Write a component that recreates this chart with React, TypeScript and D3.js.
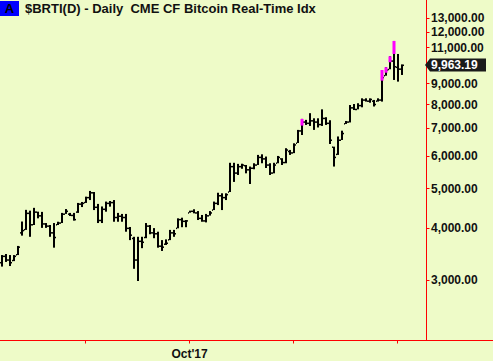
import React, { useEffect, useRef } from "react";
import * as d3 from "d3";

// daily OHLC (101 bars, oldest first)
const opens = [
  3300, 3420, 3350, 3340, 3450, 3900, 3970, 4350, 4080, 4380,
  4290, 4100, 4050, 3900, 4080, 4120, 4330, 4330, 4300, 4380,
  4580, 4620, 4750, 4880, 4500, 4180, 4450, 4600, 4620, 4250,
  4280, 4250, 4000, 3780, 3350, 3720, 3800, 4050, 3900, 3880,
  3620, 3660, 3750, 3900, 4000, 4200, 4160, 4360, 4400, 4360,
  4230, 4170, 4290, 4430, 4600, 4800, 4750, 4900, 5650, 5450,
  5650, 5680, 5550, 5600, 5700, 5950, 5900, 5700, 5450, 5760,
  5900, 5780, 6150, 6100, 6440, 6900, 7250, 7200, 7300, 7250,
  7150, 7400, 7200, 6300, 6050, 6550, 7180, 7250, 7850, 7780,
  7950, 8200, 8150, 8150, 8150, 8200, 9400, 9730, 10200, 9850, 9750,
];
const highs = [
  3440, 3460, 3440, 3440, 3620, 4150, 4430, 4410, 4480, 4385,
  4380, 4115, 4070, 4115, 4145, 4355, 4450, 4355, 4355, 4605,
  4630, 4770, 4925, 4895, 4580, 4515, 4640, 4655, 4680, 4355,
  4330, 4330, 4025, 3810, 3810, 3810, 4115, 4070, 4000, 3920,
  3740, 3755, 3960, 3960, 4225, 4240, 4185, 4410, 4445, 4400,
  4305, 4330, 4400, 4640, 4875, 4860, 4860, 5765, 5765, 5730,
  5735, 5695, 5645, 5750, 6025, 6045, 5970, 5750, 5765, 5990,
  5915, 6255, 6195, 6430, 6930, 7370, 7330, 7610, 7395, 7395,
  7775, 7440, 7315, 6310, 6680, 6900, 7285, 7965, 8010, 8045,
  8270, 8270, 8270, 8195, 8270, 9690, 9840, 10460, 11400, 10600, 10000,
];
const lows = [
  3225, 3310, 3235, 3325, 3440, 3835, 3960, 3810, 4070, 4225,
  4005, 4005, 3810, 3585, 4070, 4115, 4330, 4280, 4170, 4355,
  4500, 4605, 4680, 4425, 4115, 4115, 4385, 4510, 4145, 4145,
  4145, 3920, 3740, 3185, 2975, 3575, 3780, 3865, 3780, 3585,
  3520, 3640, 3740, 3810, 3995, 4020, 4020, 4360, 4345, 4185,
  4145, 4130, 4290, 4425, 4550, 4425, 4680, 4895, 5180, 5385,
  5575, 5435, 5120, 5560, 5695, 5750, 5600, 5385, 5435, 5750,
  5695, 5750, 6025, 6085, 6440, 6735, 7125, 7085, 6930, 7025,
  7085, 7125, 6405, 5645, 6025, 6550, 7165, 7225, 7745, 7775,
  7865, 8120, 8070, 7900, 8120, 8120, 9385, 9730, 9165, 9080, 9425,
];
const closes = [
  3420, 3350, 3300, 3420, 3600, 3950, 4350, 4080, 4380, 4290,
  4100, 4050, 3900, 3800, 4120, 4330, 4400, 4300, 4200, 4580,
  4600, 4750, 4880, 4500, 4180, 4450, 4600, 4620, 4250, 4280,
  4250, 4000, 3850, 3350, 3720, 3700, 4050, 3900, 3880, 3620,
  3600, 3680, 3900, 3880, 4200, 4160, 4170, 4400, 4360, 4230,
  4170, 4290, 4360, 4600, 4800, 4750, 4830, 5650, 5450, 5650,
  5700, 5550, 5600, 5700, 5950, 5900, 5700, 5450, 5700, 5950,
  5780, 6200, 6100, 6380, 6900, 7250, 7200, 7300, 7250, 7150,
  7400, 7200, 6550, 5950, 6550, 6800, 7250, 7850, 7780, 7950,
  8200, 8150, 8230, 8000, 8200, 9300, 9700, 10200, 9880, 9750, 9963.19,
];

// magenta highlighted bar segments
const pinkIdx = [75, 95, 96, 97, 98];
const pinkTop = [7370, 9690, 9840, 10460, 11400];
const pinkBottom = [7100, 9130, 9545, 10120, 10600];

const yTicks = [3000, 4000, 5000, 6000, 7000, 8000, 9000, 10000, 11000, 12000, 13000];
const hiddenYLabel = 10000; // sits under the last-price tag
const xTickIdx = [21, 47, 73, 99];
const xTickLabels = ["", "Oct'17", "", ""];
const lastPrice = 9963.19;

export default function App() {
  const svgRef = useRef<SVGSVGElement>(null);

  useEffect(() => {
    if (!svgRef.current) return;
    const width = 493;
    const height = 361;
    const plotRight = 426.5;
    const plotBottom = 340.5;
    const font = "'Liberation Sans', Arial, sans-serif";

    const svg = d3.select(svgRef.current);
    svg.selectAll("*").remove();
    svg.attr("width", width).attr("height", height).attr("viewBox", [0, 0, width, height]);

    svg.append("rect").attr("width", width).attr("height", height).attr("fill", "#EEFBC8");

    const x = d3.scaleLinear().domain([0, 100]).range([2, 402]);
    const y = d3.scaleLog().domain([3000, 13000]).range([279.5, 17.5]);

    svg.append("defs").append("clipPath").attr("id", "plot-clip")
      .append("rect").attr("x", 0).attr("y", 0).attr("width", plotRight).attr("height", plotBottom);

    const plot = svg.append("g").attr("clip-path", "url(#plot-clip)");
    const idx = d3.range(closes.length);

    // OHLC bars
    plot.append("g").attr("fill", "#000")
      .selectAll("rect").data(idx).join("rect")
      .attr("x", i => x(i) - 1)
      .attr("y", i => y(highs[i]))
      .attr("width", 2)
      .attr("height", i => Math.max(1, y(lows[i]) - y(highs[i])));
    plot.append("g").attr("fill", "#000")
      .selectAll("rect").data(idx).join("rect")
      .attr("x", i => x(i) - 2)
      .attr("y", i => y(opens[i]) - 0.5)
      .attr("width", 1)
      .attr("height", 1.5);
    plot.append("g").attr("fill", "#000")
      .selectAll("rect").data(idx).join("rect")
      .attr("x", i => x(i) + 1)
      .attr("y", i => y(closes[i]) - 0.5)
      .attr("width", 1)
      .attr("height", 1.5);

    plot.append("g").attr("fill", "#FF00FF")
      .selectAll("rect").data(pinkIdx).join("rect")
      .attr("x", d => x(d) - 1.5)
      .attr("y", (d, k) => y(pinkTop[k]))
      .attr("width", 3)
      .attr("height", (d, k) => y(pinkBottom[k]) - y(pinkTop[k]));

    // axes
    svg.append("line").attr("x1", plotRight).attr("x2", plotRight).attr("y1", 0).attr("y2", plotBottom)
      .attr("stroke", "#FF0000").attr("stroke-width", 1);
    svg.append("line").attr("x1", 0).attr("x2", width).attr("y1", plotBottom).attr("y2", plotBottom)
      .attr("stroke", "#FF0000").attr("stroke-width", 1);

    const yAxis = svg.append("g");
    yTicks.forEach(t => {
      const ty = Math.round(y(t)) + 0.5;
      yAxis.append("line").attr("x1", plotRight).attr("x2", plotRight + 3).attr("y1", ty).attr("y2", ty)
        .attr("stroke", "#FF0000");
      if (t === hiddenYLabel) return;
      yAxis.append("text").attr("x", 431).attr("y", y(t) + 4.3)
        .attr("font-family", font).attr("font-size", 12).attr("font-weight", "bold").attr("fill", "#111")
        .text(d3.format(",.2f")(t));
    });

    const xAxis = svg.append("g");
    xTickIdx.forEach((t, k) => {
      const tx = Math.round(x(t)) - 0.5;
      xAxis.append("line").attr("x1", tx).attr("x2", tx).attr("y1", plotBottom).attr("y2", plotBottom + 3)
        .attr("stroke", "#FF0000");
      if (xTickLabels[k]) {
        xAxis.append("text").attr("x", tx).attr("y", 357.5).attr("text-anchor", "middle")
          .attr("font-family", font).attr("font-size", 12).attr("font-weight", "bold").attr("fill", "#111")
          .text(xTickLabels[k]);
      }
    });

    // last price marker
    const py = y(lastPrice);
    const tag = svg.append("g");
    tag.append("path")
      .attr("d", `M425,${py} L430,${py - 6.5} L486,${py - 6.5} L486,${py + 6.5} L430,${py + 6.5} Z`)
      .attr("fill", "#1a1a1a");
    tag.append("text").attr("x", 431).attr("y", py + 4.3)
      .attr("font-family", font).attr("font-size", 12).attr("font-weight", "bold").attr("fill", "#fff")
      .text(d3.format(",.2f")(lastPrice));

    // title
    svg.append("rect").attr("x", 0).attr("y", 1).attr("width", 19).attr("height", 15).attr("fill", "#0000FF");
    svg.append("text").attr("x", 9.5).attr("y", 13).attr("text-anchor", "middle")
      .attr("font-family", font).attr("font-size", 13).attr("font-weight", "bold").attr("fill", "#000")
      .text("A");
    svg.append("text").attr("x", 25).attr("y", 13)
      .style("white-space", "pre")
      .attr("font-family", font).attr("font-size", 13).attr("font-weight", "bold").attr("fill", "#111")
      .text("$BRTI(D) - Daily  CME CF Bitcoin Real-Time Idx");
  }, []);

  return (
    <svg ref={svgRef} style={{ position: "absolute", left: 0, top: 0, display: "block" }}></svg>
  );
}
